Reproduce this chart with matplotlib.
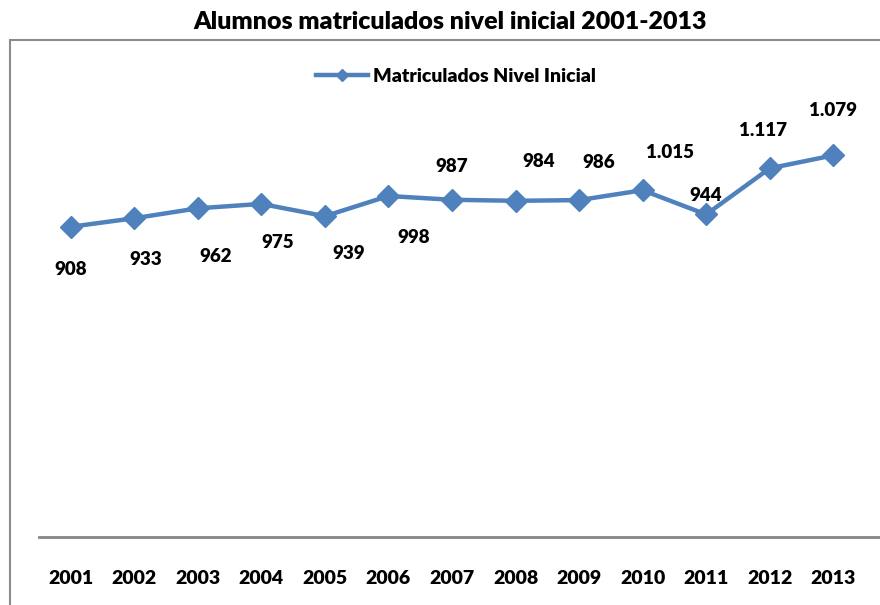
import matplotlib.pyplot as plt
from matplotlib.patches import Rectangle

plt.rcParams['font.family'] = ['Lato', 'DejaVu Sans']

years = ['2001', '2002', '2003', '2004', '2005', '2006', '2007',
         '2008', '2009', '2010', '2011', '2012', '2013']
alumnos = [908, 933, 962, 975, 939, 998, 987, 984, 986, 1015, 944, 1079, 1117]
# data labels as shown in the original (2012/2013 appear swapped there)
etiquetas = ['908', '933', '962', '975', '939', '998', '987',
             '984', '986', '1.015', '944', '1.117', '1.079']

# label offsets in points (dx, dy) relative to each marker
offsets = [(0, -31), (8, -30), (13, -35), (12, -28), (17, -27), (18, -30),
           (0, 24), (17, 28), (14, 27), (20, 27), (0, 14), (-5, 27), (0, 32)]

blue = '#4F81BD'
step = 63.5  # px per category

fig = plt.figure(figsize=(8.8, 6.05), dpi=100)
ax = fig.add_axes([39 / 880, 68 / 605, 841 / 880, 410 / 605])

x = range(len(years))
ax.plot(x, alumnos, color=blue, lw=3.2, marker='D', ms=11,
        label='Matriculados Nivel Inicial')

for i, (v, t) in enumerate(zip(alumnos, etiquetas)):
    ax.annotate(t, (i, v), xytext=offsets[i], textcoords='offset points',
                ha='center', va='center', fontsize=13.5, fontweight='heavy',
                annotation_clip=False)

ax.set_xlim(-0.5, len(years) - 0.5 + 15 / step)
ax.set_ylim(0, 1200)
ax.set_xticks(list(x))
ax.set_xticklabels(years, fontsize=14, fontweight='heavy')
ax.tick_params(axis='x', length=0, pad=24)
ax.set_yticks([])
for s in ['top', 'right', 'left']:
    ax.spines[s].set_visible(False)
ax.spines['bottom'].set_color('#868686')
ax.spines['bottom'].set_linewidth(2)

fig.text(0.511, 1 - 22 / 605, 'Alumnos matriculados nivel inicial 2001-2013',
         ha='center', va='center', fontsize=18, fontweight='heavy')

leg = fig.legend(loc='center', bbox_to_anchor=(456 / 880, 1 - 76 / 605),
                 frameon=False, prop={'size': 14, 'weight': 'heavy'},
                 handlelength=2.7, handletextpad=0.25, markerscale=0.6)

# chart border (only top and left edges visible in the crop)
fig.patches.append(Rectangle((10 / 880, -0.1), 1.2, 0.1 + (605 - 40) / 605,
                             transform=fig.transFigure, fill=False,
                             edgecolor='#8c8c8c', lw=1.5))

fig.savefig('out.png', dpi=100)
